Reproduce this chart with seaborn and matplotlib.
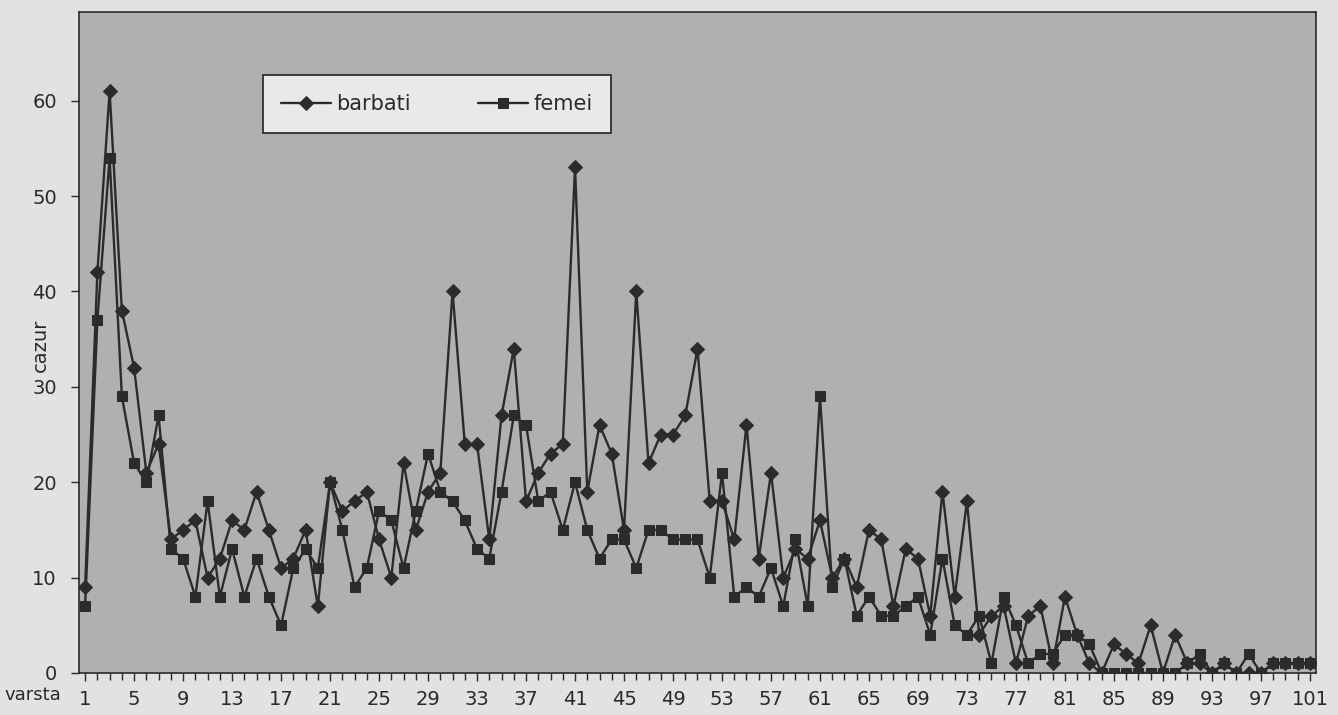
import numpy as np
import pandas as pd
import matplotlib.pyplot as plt
import seaborn as sns

# varsta (age) 1..101, numar de cazuri pe sexe
varsta = list(range(1, 102))
barbati = [9, 42, 61, 38, 32, 21, 24, 14, 15, 16,
           10, 12, 16, 15, 19, 15, 11, 12, 15, 7,
           20, 17, 18, 19, 14, 10, 22, 15, 19, 21,
           40, 24, 24, 14, 27, 34, 18, 21, 23, 24,
           53, 19, 26, 23, 15, 40, 22, 25, 25, 27,
           34, 18, 18, 14, 26, 12, 21, 10, 13, 12,
           16, 10, 12, 9, 15, 14, 7, 13, 12, 6,
           19, 8, 18, 4, 6, 7, 1, 6, 7, 1,
           8, 4, 1, 0, 3, 2, 1, 5, 0, 4,
           1, 1, 0, 1, 0, 0, 0, 1, 1, 1,
           1]
femei = [7, 37, 54, 29, 22, 20, 27, 13, 12, 8,
         18, 8, 13, 8, 12, 8, 5, 11, 13, 11,
         20, 15, 9, 11, 17, 16, 11, 17, 23, 19,
         18, 16, 13, 12, 19, 27, 26, 18, 19, 15,
         20, 15, 12, 14, 14, 11, 15, 15, 14, 14,
         14, 10, 21, 8, 9, 8, 11, 7, 14, 7,
         29, 9, 12, 6, 8, 6, 6, 7, 8, 4,
         12, 5, 4, 6, 1, 8, 5, 1, 2, 2,
         4, 4, 3, 0, 0, 0, 0, 0, 0, 0,
         1, 2, 0, 1, 0, 2, 0, 1, 1, 1,
         1]
x_ticks = list(range(1, 102, 4))
y_ticks = [0, 10, 20, 30, 40, 50, 60]

sns.set_style('ticks')
plt.rcParams['font.family'] = ['DejaVu Sans']

txt_color = '#2a2a2a'
line_color = '#2b2b2b'

fig = plt.figure(figsize=(13.38, 7.15), dpi=100, facecolor='#e2e2e2')
ax = fig.add_axes([79 / 1338, 42 / 715, 1237 / 1338, 661 / 715])
ax.set_facecolor('#b0b0b0')

sns.lineplot(x=varsta, y=barbati, ax=ax, color=line_color, marker='D',
             markersize=7, mec=line_color, mfc=line_color, linewidth=1.7,
             label='barbati')
sns.lineplot(x=varsta, y=femei, ax=ax, color=line_color, marker='s',
             markersize=7.5, mec=line_color, mfc=line_color, linewidth=1.7,
             label='femei')

ax.set_xlim(0.5, 101.5)
ax.set_ylim(0, 69.3)
ax.set_xticks(x_ticks)
ax.set_xticks(varsta, minor=True)
ax.set_yticks(y_ticks)
ax.tick_params(axis='both', which='major', direction='out', length=6, width=1,
               color=txt_color, labelsize=14, labelcolor=txt_color, pad=6)
ax.tick_params(axis='x', which='minor', direction='out', length=5, width=1,
               color=txt_color)
ax.tick_params(axis='y', pad=10)
ax.set_xlabel('')
ax.set_ylabel('')
for sp in ax.spines.values():
    sp.set_color('#2a2a2a')
    sp.set_linewidth(1.2)

fig.text(40 / 1338, 1 - 345 / 715, 'cazur', rotation=90, fontsize=14,
         color=txt_color, ha='center', va='center')
fig.text(4 / 1338, 1 - 695 / 715, 'varsta', fontsize=13, color=txt_color,
         ha='left', va='center')

leg = ax.legend(loc='upper left', bbox_to_anchor=(0.14, 0.92), ncol=2,
                fontsize=15, frameon=True, fancybox=False, framealpha=1,
                facecolor='#e9e9e9', edgecolor='#222222', handlelength=2.4,
                handletextpad=0.25, columnspacing=3.2, borderpad=0.9)
leg.get_frame().set_linewidth(1.2)
for t in leg.get_texts():
    t.set_color(txt_color)

fig.savefig('out.png', dpi=100, facecolor=fig.get_facecolor())
